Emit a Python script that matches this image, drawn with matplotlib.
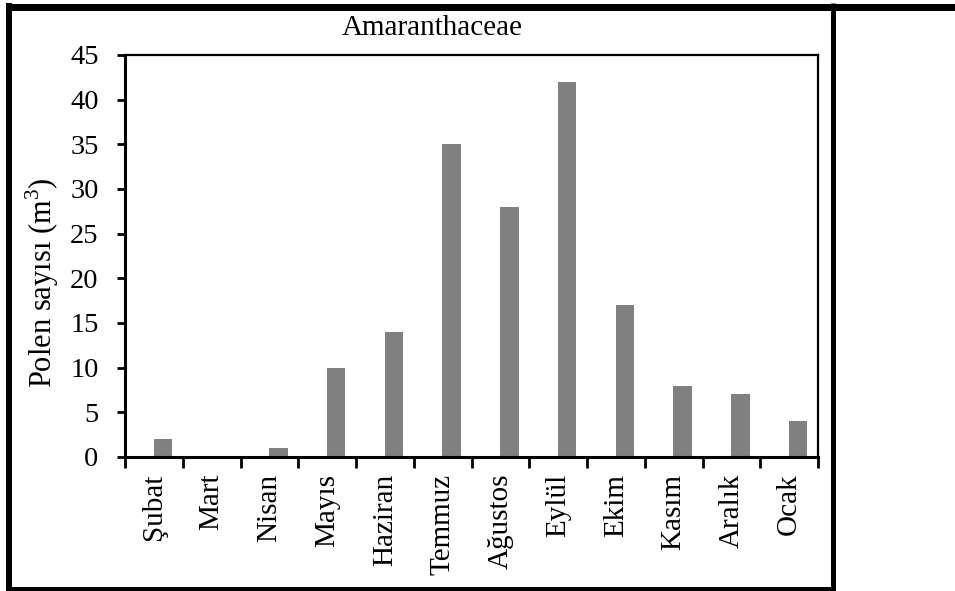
import numpy as np
import matplotlib
matplotlib.use("Agg")
import matplotlib.pyplot as plt
from matplotlib.lines import Line2D

months = ["Şubat", "Mart", "Nisan", "Mayıs", "Haziran", "Temmuz",
          "Ağustos", "Eylül", "Ekim", "Kasım", "Aralık", "Ocak"]
counts = [2, 0, 1, 10, 14, 35, 28, 42, 17, 8, 7, 4]
yticks = [0, 5, 10, 15, 20, 25, 30, 35, 40, 45]
title = "Amaranthaceae"
ylabel = "Polen sayısı (m$^{3}$)"

plt.rcParams['font.family'] = ['Liberation Serif', 'DejaVu Serif']
plt.rcParams['mathtext.fontset'] = 'custom'
plt.rcParams['mathtext.rm'] = 'Liberation Serif'

W, H = 955, 591
fig = plt.figure(figsize=(W / 100, H / 100), dpi=100)

def fx(px):
    return px / W

def fy(py):
    return 1 - py / H

left, right, top, bottom = 125, 818, 55, 457
ax = fig.add_axes([fx(left), fy(bottom), fx(right - left), (bottom - top) / H])

x = np.arange(len(months))
ax.bar(x + 0.155, counts, width=0.32, color='#808080', zorder=2)
ax.set_xlim(-0.5, len(months) - 0.5)
ax.set_ylim(0, 45)
ax.set_yticks(yticks)
ax.set_yticklabels([str(v) for v in yticks], fontsize=20.5)

ax.set_xticks(np.arange(-0.5, len(months), 1.0))
ax.set_xticklabels([])
ax.set_xticks(x, minor=True)
ax.set_xticklabels(months, minor=True, rotation=90, fontsize=21)
ax.tick_params(axis='x', which='major', length=8, width=2, direction='out')
ax.tick_params(axis='x', which='minor', length=0, pad=12)
ax.tick_params(axis='y', length=6, width=2, direction='out', pad=13)

for s in ['left', 'bottom']:
    ax.spines[s].set_linewidth(2.2)
for s in ['top', 'right']:
    ax.spines[s].set_linewidth(1.6)
for s in ax.spines.values():
    s.set_color('black')

fig.text(fx(432), fy(28), title, ha='center', va='center', fontsize=21)
fig.text(fx(42), fy(283), ylabel, ha='center', va='center', rotation=90, fontsize=22)

# outer frame
def hline(y, x0, x1, wpx):
    fig.add_artist(Line2D([fx(x0), fx(x1)], [fy(y), fy(y)], transform=fig.transFigure,
                          color='black', lw=wpx * 0.72, solid_capstyle='butt'))

def vline(xp, y0, y1, wpx):
    fig.add_artist(Line2D([fx(xp), fx(xp)], [fy(y0), fy(y1)], transform=fig.transFigure,
                          color='black', lw=wpx * 0.72, solid_capstyle='butt'))

hline(6.5, 6, 955, 7)
vline(9, 3, 591, 6)
vline(832.5, 3, 591, 5)
hline(588.5, 6, 835, 5)

fig.savefig('out.png', dpi=100)
